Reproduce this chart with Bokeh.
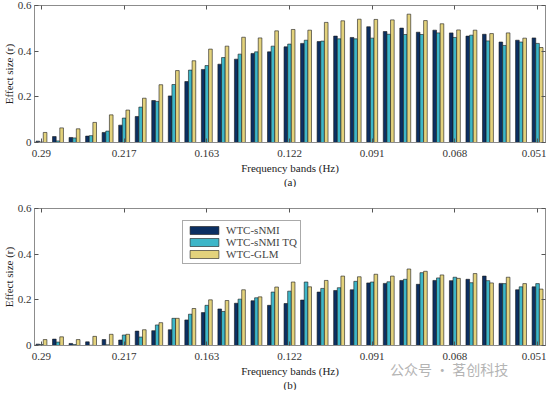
from bokeh.plotting import figure
from bokeh.layouts import column
from bokeh.models import ColumnDataSource, FixedTicker, LinearAxis, Range1d, Title, Legend, LegendItem, Div
from bokeh.transform import dodge
from bokeh.embed import file_html
from bokeh.resources import INLINE

bands = list(range(1, 32))
tick_pos = [1, 6, 11, 16, 21, 26, 31]
tick_labels = ["0.29", "0.217", "0.163", "0.122", "0.091", "0.068", "0.051"]

a_snmi = [0.006, 0.026, 0.022, 0.028, 0.044, 0.076, 0.114, 0.184, 0.204, 0.267, 0.320, 0.343, 0.365, 0.390, 0.397, 0.419,
          0.434, 0.442, 0.466, 0.460, 0.507, 0.486, 0.501, 0.483, 0.492, 0.480, 0.466, 0.474, 0.440, 0.448, 0.458]
a_tq = [0.002, 0.007, 0.020, 0.030, 0.050, 0.107, 0.155, 0.180, 0.254, 0.317, 0.337, 0.372, 0.387, 0.397, 0.422, 0.431,
        0.448, 0.444, 0.454, 0.454, 0.457, 0.474, 0.473, 0.473, 0.480, 0.460, 0.470, 0.445, 0.425, 0.440, 0.434]
a_glm = [0.044, 0.064, 0.060, 0.088, 0.121, 0.142, 0.194, 0.253, 0.315, 0.358, 0.409, 0.422, 0.461, 0.458, 0.489, 0.495,
         0.492, 0.526, 0.533, 0.540, 0.539, 0.537, 0.562, 0.534, 0.520, 0.493, 0.492, 0.477, 0.480, 0.457, 0.416]

b_snmi = [0.006, 0.028, 0.009, 0.016, 0.026, 0.024, 0.063, 0.065, 0.069, 0.112, 0.144, 0.160, 0.185, 0.196, 0.176, 0.184,
          0.199, 0.234, 0.241, 0.244, 0.274, 0.272, 0.285, 0.268, 0.285, 0.284, 0.290, 0.304, 0.272, 0.244, 0.257]
b_tq = [0.004, 0.015, 0.004, 0.001, 0.003, 0.046, 0.037, 0.090, 0.119, 0.137, 0.176, 0.149, 0.203, 0.209, 0.234, 0.238,
        0.278, 0.250, 0.253, 0.281, 0.278, 0.279, 0.290, 0.319, 0.296, 0.299, 0.275, 0.284, 0.271, 0.257, 0.271]
b_glm = [0.026, 0.038, 0.026, 0.040, 0.049, 0.049, 0.069, 0.100, 0.119, 0.162, 0.200, 0.197, 0.244, 0.213, 0.256, 0.278,
         0.257, 0.285, 0.304, 0.301, 0.312, 0.304, 0.335, 0.325, 0.309, 0.294, 0.315, 0.274, 0.299, 0.271, 0.247]

series_names = ["WTC-sNMI", "WTC-sNMI TQ", "WTC-GLM"]
colors = ["#0b2f62", "#3db6c8", "#e3d27c"]
watermark = "公众号 · 茗创科技"

FONT = "Liberation Serif"


def make_panel(v1, v2, v3, caption, height, top_border, legend=False):
    src = ColumnDataSource(dict(x=bands, s1=v1, s2=v2, s3=v3))
    p = figure(width=546, height=height, output_backend="svg", toolbar_location=None,
               x_range=Range1d(0.58, 31.48), y_range=Range1d(0, 0.6),
               min_border_left=10, min_border_right=1, min_border_top=top_border, min_border_bottom=0)
    renderers = []
    for key, off, col in zip(["s1", "s2", "s3"], [-0.22, 0.0, 0.22], colors):
        r = p.vbar(x=dodge("x", off, range=p.x_range), top=key, width=0.22, bottom=0, source=src,
                   fill_color=col, line_color="#1a1a1a", line_width=0.6)
        renderers.append(r)
    p.xgrid.visible = False
    p.ygrid.visible = False
    p.outline_line_color = "#8c8c8c"
    p.outline_line_width = 1
    p.background_fill_color = "white"

    xa = p.xaxis[0]
    xa.ticker = FixedTicker(ticks=tick_pos)
    xa.major_label_overrides = {t: l for t, l in zip(tick_pos, tick_labels)}
    ya = p.yaxis[0]
    ya.ticker = FixedTicker(ticks=[0, 0.2, 0.4, 0.6])
    ya.major_label_overrides = {0: "0", 0.2: "0.2", 0.4: "0.4", 0.6: "0.6"}
    for ax in (xa, ya):
        ax.axis_line_color = "#8c8c8c"
        ax.major_tick_line_color = "#555555"
        ax.major_tick_in = 4
        ax.major_tick_out = 0
        ax.minor_tick_line_color = None
        ax.major_label_text_font = FONT
        ax.major_label_text_font_size = "11px"
        ax.major_label_text_color = "#333333"
    xa.major_label_standoff = 7
    ya.major_label_standoff = 3

    top_ax = LinearAxis(ticker=FixedTicker(ticks=tick_pos), major_label_text_font_size="0px",
                        major_tick_in=4, major_tick_out=0, minor_tick_line_color=None,
                        axis_line_color="#8c8c8c", major_tick_line_color="#555555")
    top_ax.major_label_text_color = None
    right_ax = LinearAxis(ticker=FixedTicker(ticks=[0, 0.2, 0.4, 0.6]), major_label_text_font_size="0px",
                          major_tick_in=4, major_tick_out=0, minor_tick_line_color=None,
                          axis_line_color="#8c8c8c", major_tick_line_color="#555555")
    right_ax.major_label_text_color = None
    p.add_layout(top_ax, "above")
    p.add_layout(right_ax, "right")

    p.add_layout(Title(text="Frequency bands (Hz)", align="center", text_font=FONT, text_font_size="11px",
                       text_font_style="normal", text_color="#222222", standoff=0), "below")
    p.add_layout(Title(text=caption, align="center", text_font=FONT, text_font_size="11px",
                       text_font_style="normal", text_color="#222222", standoff=0), "below")
    p.add_layout(Title(text="Effect size (r)", align="center", text_font=FONT, text_font_size="11px",
                       text_font_style="normal", text_color="#222222", standoff=0), "left")

    if legend:
        items = [LegendItem(label=n, renderers=[r]) for n, r in zip(series_names, renderers)]
        lg = Legend(items=items, location=(148, 81), label_text_font=FONT, label_text_font_size="11px",
                    label_text_line_height=0.8,
                    glyph_width=36, glyph_height=10, label_height=10, spacing=0, padding=3, margin=0,
                    label_standoff=4, border_line_color="#555555", border_line_width=1,
                    background_fill_alpha=1.0)
        p.add_layout(lg)
    return p


pa = make_panel(a_snmi, a_tq, a_glm, "(a)", 187, 5)
pb = make_panel(b_snmi, b_tq, b_glm, "(b)", 203, 21, legend=True)
wm = Div(text=watermark, width=150, height=20, margin=(-31, 0, 11, 390),
         styles={"color": "#b4b4b4", "font-family": "Noto Sans CJK SC", "font-size": "14px",
                 "position": "relative", "z-index": "10", "white-space": "nowrap"})

layout = column(pa, pb, wm, spacing=0)
open("out.html", "w").write(file_html(layout, INLINE))
